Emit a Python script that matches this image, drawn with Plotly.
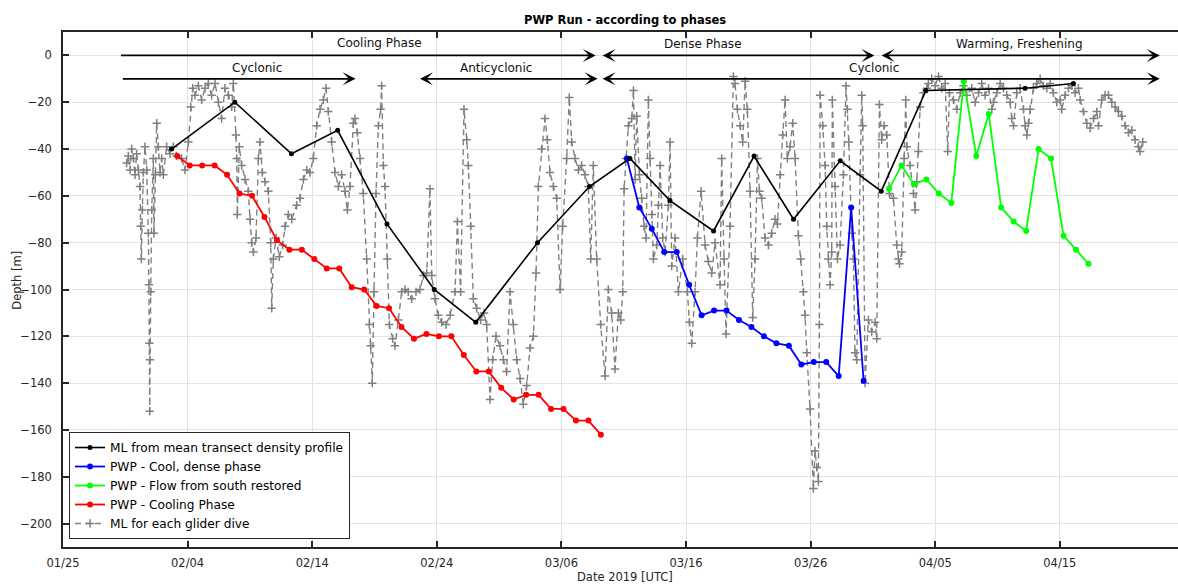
import pandas as pd
import plotly.graph_objects as go

T0 = pd.Timestamp("2019-01-25")

# ---------------------------------------------------------------- data
# Mixed-layer depth from the mean transect density profile
transect_time = ["2019-02-02 17:00", "2019-02-07 19:00", "2019-02-12 08:00", "2019-02-16 01:00",
                 "2019-02-20 00:00", "2019-02-23 19:00", "2019-02-27 03:00", "2019-03-04 02:00",
                 "2019-03-08 06:00", "2019-03-11 12:00", "2019-03-14 17:00", "2019-03-18 05:00",
                 "2019-03-21 11:00", "2019-03-24 15:00", "2019-03-28 09:00", "2019-03-31 16:00",
                 "2019-04-04 06:00", "2019-04-12 05:00", "2019-04-16 02:00"]
transect_ml = [-40, -20, -42, -32, -72, -100, -114, -80, -56, -44, -62, -75,
               -43, -70, -45, -58, -15, -14, -12]

# PWP model runs (daily output)
cooling_start = "2019-02-03 04:00"
cooling_ml = [-43, -47, -47, -47, -51, -59, -60, -69, -79, -83, -83, -87, -91, -91, -99,
              -100, -107, -108, -116, -121, -119, -120, -120, -128, -135, -135, -142, -147,
              -145, -145, -151, -151, -156, -156, -162]

dense_start = "2019-03-11 06:00"
dense_ml = [-44, -65, -74, -84, -84, -98, -111, -109, -109, -113, -116, -120, -123, -124,
            -132, -131, -131, -137, -65, -139]

south_start = "2019-04-01 07:00"
south_ml = [-57, -47, -55, -53, -59, -63, -11, -43, -25, -65, -71, -75, -40, -44, -77, -83, -89]

# Mixed-layer depth of each glider dive (days since 2019-01-25, depth in m)
dive_day = [
    5.11, 5.24, 5.38, 5.51, 5.65, 5.78, 5.91, 6.05, 6.18, 6.23, 6.29, 6.37, 6.45, 6.58, 6.72,
    6.85, 6.90, 6.93, 6.96, 6.98, 7.04, 7.12, 7.25, 7.30, 7.41, 7.52, 7.65, 7.79, 7.92, 8.05,
    8.32, 8.59, 8.85, 9.12, 9.52, 9.79, 10.06, 10.25, 10.41, 10.59, 10.86, 11.13, 11.40, 11.66,
    11.93, 12.20, 12.47, 12.73, 13.00, 13.27, 13.54, 13.67, 13.88, 13.94, 13.99, 14.15, 14.34,
    14.61, 14.87, 15.01, 15.14, 15.28, 15.49, 15.68, 15.81, 16.00, 16.21, 16.48, 16.67, 16.75,
    16.88, 17.10, 17.36, 17.63, 17.82, 18.08, 18.35, 18.75, 19.02, 19.29, 19.56, 19.82, 20.09,
    20.36, 20.63, 20.89, 21.11, 21.29, 21.56, 21.83, 22.10, 22.36, 22.63, 22.82, 23.03,
    23.30, 23.43, 23.62, 23.84, 24.10, 24.37, 24.58, 24.69, 24.82, 24.96, 25.12, 25.31, 25.49,
    25.57, 25.71, 25.84, 26.03, 26.19, 26.46, 26.64, 26.91, 27.18, 27.45, 27.71, 27.98, 28.33,
    28.65, 28.92, 29.19, 29.45, 29.59, 29.85, 30.12, 30.39, 30.74, 31.06, 31.46, 31.65, 31.91,
    32.18, 32.40, 32.53, 32.72, 32.93, 33.20, 33.52, 33.79, 34.00, 34.27, 34.48, 34.75, 35.07,
    35.34, 35.60, 35.87, 36.14, 36.41, 36.68, 36.94, 37.21, 37.48, 37.75, 37.96, 38.15, 38.41,
    38.68, 38.87, 39.08, 39.35, 39.62, 39.89, 40.10, 40.42, 40.63, 40.82, 41.09, 41.36, 41.62,
    41.89, 42.16, 42.35, 42.56, 42.83, 43.15, 43.50, 43.76, 44.03, 44.30, 44.57,
    44.76, 44.92, 45.03, 45.19, 45.37, 45.64, 45.78, 45.91, 46.04, 46.26, 46.44, 46.63, 46.79,
    46.98, 47.11, 47.25, 47.38, 47.65, 47.78, 47.92, 48.13, 48.32, 48.58, 48.72, 48.85, 49.12,
    49.39, 49.73, 50.11, 50.27, 50.46, 50.72, 50.91, 51.21, 51.53, 51.79, 52.06, 52.33, 52.73,
    52.86, 53.05, 53.21, 53.53, 53.80, 53.93, 54.12, 54.34, 54.55, 54.74, 54.92, 55.14, 55.35,
    55.54, 55.73, 55.89, 56.07, 56.34, 56.61, 56.88, 57.14, 57.33, 57.55, 57.76, 57.95, 58.13,
    58.35, 58.56, 58.75, 59.02, 59.20, 59.42, 59.55, 59.69, 59.95, 60.22, 60.35, 60.49, 60.62,
    60.70, 60.76, 60.97, 61.16, 61.29, 61.42, 61.56, 61.69, 61.74, 61.96, 62.15, 62.36, 62.63,
    62.84, 62.95, 63.06, 63.30, 63.43, 63.56, 63.70, 63.97, 64.10, 64.18, 64.37, 64.63, 64.90,
    65.17, 65.30, 65.52, 65.70, 65.89, 66.11, 66.32, 66.64, 66.91, 67.04,
    67.13, 67.31, 67.50, 67.63, 67.72, 67.98, 68.25, 68.38, 68.52, 68.65, 68.79, 69.05, 69.32,
    69.45, 69.72, 69.99, 70.26, 70.52, 70.79, 71.00, 71.14, 71.46, 71.73, 72.00, 72.26, 72.53,
    72.93, 73.20, 73.47, 73.73, 74.00, 74.27, 74.54, 74.67, 74.94, 75.21, 75.47, 75.74, 76.01,
    76.14, 76.28, 76.54, 76.81, 77.08, 77.21, 77.35, 77.48, 77.61, 77.88, 78.15, 78.42, 78.68,
    78.95, 79.22, 79.48, 79.75, 80.02, 80.15, 80.42, 80.69, 80.96, 81.22, 81.49, 81.63, 81.89,
    82.16, 82.43, 82.70, 82.96, 83.10, 83.36, 83.63, 83.90, 84.17, 84.43, 84.70, 84.97, 85.24,
    85.50, 85.77, 86.04, 86.31, 86.44, 86.65,
]
dive_ml = [
    -46, -43, -49, -40, -44, -51, -42, -49, -56, -73, -87, -66, -50, -39, -49,
    -76, -98, -123, -152, -130, -101, -66, -44, -76, -51, -29, -39, -50, -44, -51,
    -39, -42, -39, -43, -44, -49, -37, -22, -14, -17, -13, -19, -14, -12,
    -17, -12, -20, -27, -14, -17, -22, -12, -34, -44, -68, -39, -47,
    -53, -58, -70, -80, -84, -78, -44, -37, -50, -54, -58, -80, -108,
    -87, -78, -86, -81, -73, -68, -70, -64, -61, -53, -49, -50, -44,
    -30, -23, -19, -14, -24, -37, -50, -56, -51, -58, -66, -56,
    -29, -27, -33, -44, -59, -87, -115, -124, -140, -101, -59, -30, -23,
    -13, -47, -56, -87, -115, -121, -124, -113, -101, -100, -101, -104, -101,
    -100, -94, -93, -57, -94, -104, -111, -114, -115, -111, -101, -71, -101,
    -23, -36, -47, -73, -104, -108, -113, -110, -115, -147, -130, -120, -124,
    -130, -135, -101, -115, -130, -138, -149, -141, -125, -120, -93, -56, -40,
    -27, -36, -50, -56, -61, -100, -73, -44, -18, -37, -44, -49, -47,
    -51, -56, -87, -47, -87, -115, -137, -100, -110, -134, -110,
    -113, -101, -57, -44, -30, -27, -15, -53, -26, -51, -61, -73, -78,
    -19, -44, -68, -87, -81, -64, -47, -78, -84, -64, -37, -90, -78,
    -101, -87, -101, -114, -123, -101, -78, -58, -81, -88, -93, -80, -98,
    -44, -87, -119, -73, -9, -12, -23, -30, -37, -11, -23, -58, -112,
    -87, -44, -58, -61, -78, -81, -76, -70, -72, -51, -34, -19, -44,
    -39, -29, -44, -77, -87, -101, -111, -127, -151, -185, -169, -176, -182,
    -115, -17, -30, -47, -73, -87, -98, -84, -19, -56, -87, -81, -51,
    -13, -23, -37, -76, -87, -127, -130, -51, -17, -30, -140, -113, -118,
    -114, -121, -21, -36, -30, -34, -59, -61, -81, -87,
    -89, -84, -44, -19, -39, -47, -59, -66, -54, -41, -22, -16, -14,
    -12, -10, -13, -9, -14, -12, -41, -16, -19, -23, -16, -13, -17,
    -14, -20, -16, -12, -17, -14, -23, -20, -16, -12, -14, -17, -20,
    -27, -30, -16, -14, -23, -30, -34, -29, -23, -14, -12, -10, -13,
    -14, -12, -16, -20, -19, -23, -17, -14, -13, -16, -14, -19, -24,
    -29, -31, -27, -24, -30, -19, -17, -17, -20, -22, -24, -26, -30,
    -33, -32, -36, -39, -41, -37,
]

date_ticks = ["2019-01-25", "2019-02-04", "2019-02-14", "2019-02-24", "2019-03-06",
              "2019-03-16", "2019-03-26", "2019-04-05", "2019-04-15"]
depth_ticks = [0, -20, -40, -60, -80, -100, -120, -140, -160, -180, -200]

# ---------------------------------------------------------------- series
dive_time = T0 + pd.to_timedelta(dive_day, unit="D")
cooling_time = pd.date_range(cooling_start, periods=len(cooling_ml), freq="D")
dense_time = pd.date_range(dense_start, periods=len(dense_ml), freq="D")
south_time = pd.date_range(south_start, periods=len(south_ml), freq="D")

FONT = "DejaVu Sans, Liberation Sans, Arial, sans-serif"
GRAY = "#808080"
fig = go.Figure()

fig.add_trace(go.Scatter(
    x=dive_time, y=dive_ml, mode="lines+markers", name="ML for each glider dive",
    line=dict(color=GRAY, width=1.4, dash="6px,4px"),
    marker=dict(symbol="cross-thin", size=6, color=GRAY, line=dict(color=GRAY, width=1.5)),
    legendrank=5,
))
fig.add_trace(go.Scatter(
    x=cooling_time, y=cooling_ml, mode="lines+markers", name="PWP - Cooling Phase",
    line=dict(color="#ff0000", width=1.8), marker=dict(symbol="circle", size=6, color="#ff0000"),
    legendrank=4,
))
fig.add_trace(go.Scatter(
    x=dense_time, y=dense_ml, mode="lines+markers", name="PWP - Cool, dense phase",
    line=dict(color="#0000ff", width=1.8), marker=dict(symbol="circle", size=6, color="#0000ff"),
    legendrank=2,
))
fig.add_trace(go.Scatter(
    x=south_time, y=south_ml, mode="lines+markers", name="PWP - Flow from south restored",
    line=dict(color="#00ff00", width=1.8), marker=dict(symbol="circle", size=6, color="#00ff00"),
    legendrank=3,
))
fig.add_trace(go.Scatter(
    x=pd.to_datetime(transect_time), y=transect_ml, mode="lines+markers",
    name="ML from mean transect density profile",
    line=dict(color="black", width=1.6), marker=dict(symbol="circle", size=5, color="black"),
    legendrank=1,
))

# ---------------------------------------------------------------- phase arrows
def day(d):
    return T0 + pd.Timedelta(days=d)

arrows = [  # (tail day, head day, depth, both ends)
    (4.53, 42.75, 0, False),     # Cooling Phase
    (4.68, 23.48, -10, False),   # Cyclonic
    (28.53, 42.90, -10, True),   # Anticyclonic
    (43.19, 65.12, 0, True),     # Dense Phase
    (65.57, 88.02, 0, True),     # Warming, Freshening
    (43.18, 88.02, -10, True),   # Cyclonic
]
for d0, d1, yv, both in arrows:
    fig.add_annotation(
        x=day(d1), y=yv, ax=day(d0), ay=yv, xref="x", yref="y", axref="x", ayref="y",
        text="", showarrow=True, arrowhead=3, arrowsize=1.2, arrowwidth=1.8, arrowcolor="black",
        arrowside="end+start" if both else "end", startarrowhead=3, startarrowsize=1.2,
        standoff=0, startstandoff=0,
    )

labels = [
    ("Cooling Phase", 25.36, 5.3), ("Cyclonic", 15.57, -5.5), ("Anticyclonic", 34.75, -5.5),
    ("Dense Phase", 51.35, 4.8), ("Warming, Freshening", 76.73, 4.8), ("Cyclonic", 65.05, -5.3),
]
for txt, d, yv in labels:
    fig.add_annotation(x=day(d), y=yv, xref="x", yref="y", text=txt, showarrow=False,
                       font=dict(family=FONT, size=12, color="#111111"),
                       xanchor="center", yanchor="middle")

# title and axis labels
fig.add_annotation(x=0.5036, y=1.0233, xref="paper", yref="paper", showarrow=False,
                   text="<b>PWP Run - according to phases</b>",
                   font=dict(family=FONT, size=11.5, color="black"),
                   xanchor="center", yanchor="middle")
fig.add_annotation(x=0.504, y=-0.0583, xref="paper", yref="paper", showarrow=False,
                   text="Date 2019 [UTC]", font=dict(family=FONT, size=11.5, color="#262626"),
                   xanchor="center", yanchor="middle")
fig.add_annotation(x=-0.0413, y=0.519, xref="paper", yref="paper", showarrow=False,
                   text="Depth [m]", textangle=-90,
                   font=dict(family=FONT, size=11.5, color="#262626"),
                   xanchor="center", yanchor="middle")

# ---------------------------------------------------------------- layout
fig.update_layout(
    width=1178, height=586,
    margin=dict(l=63, r=0, t=32, b=39),
    paper_bgcolor="white", plot_bgcolor="white",
    font=dict(family=FONT, size=12, color="#262626"),
    showlegend=True,
    legend=dict(x=0.0054, y=0.0155, xanchor="left", yanchor="bottom", bgcolor="white",
                bordercolor="#262626", borderwidth=1,
                font=dict(family=FONT, size=12.2, color="black"),
                tracegroupgap=0, itemwidth=30),
)
fig.update_xaxes(
    type="date", range=[day(0), day(89.48)], tickvals=date_ticks, tickformat="%m/%d",
    ticks="inside", ticklen=6, tickwidth=1.5, tickcolor="#262626",
    showline=True, linecolor="#262626", linewidth=1.5, mirror="ticks",
    showgrid=True, gridcolor="#e2e2e2", gridwidth=1, zeroline=False,
    ticklabelstandoff=4, tickfont=dict(family=FONT, size=11.5, color="#262626"),
)
fig.update_yaxes(
    range=[-210, 10], tickvals=depth_ticks,
    ticks="inside", ticklen=6, tickwidth=1.5, tickcolor="#262626",
    showline=True, linecolor="#262626", linewidth=1.5, mirror=False,
    showgrid=True, gridcolor="#e2e2e2", gridwidth=1, zeroline=False,
    ticklabelstandoff=7, tickfont=dict(family=FONT, size=11.5, color="#262626"),
)

fig.write_html("out.html")
